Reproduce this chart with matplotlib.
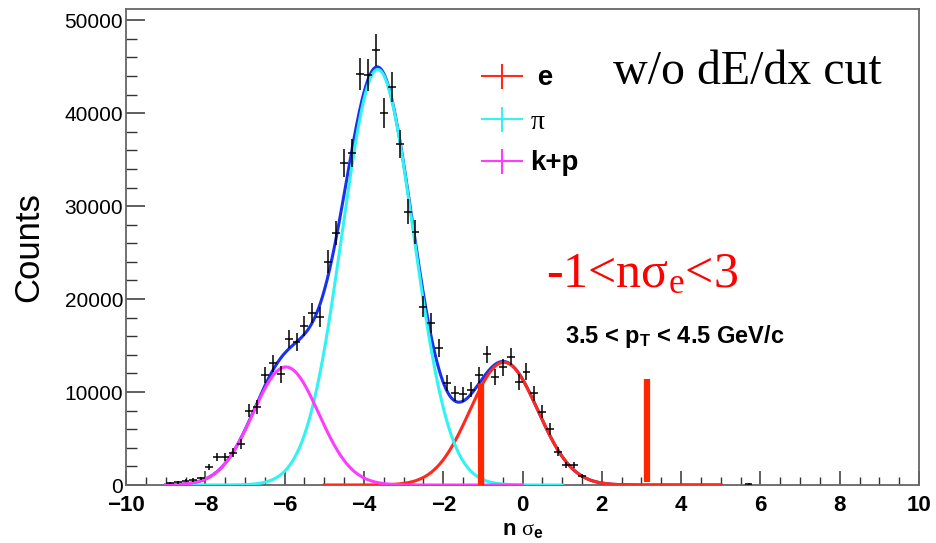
import numpy as np
import matplotlib
matplotlib.use('Agg')
import matplotlib.pyplot as plt
from matplotlib.lines import Line2D
from matplotlib.ticker import MultipleLocator

plt.rcParams['mathtext.fontset'] = 'custom'
plt.rcParams['mathtext.rm'] = 'Liberation Serif'
plt.rcParams['mathtext.it'] = 'Liberation Serif'
plt.rcParams['mathtext.bf'] = 'Liberation Sans:bold'

# histogram points (bin centre, counts, error)
bin_x = [-8.9, -8.7, -8.5, -8.3, -8.1, -7.9, -7.7, -7.5, -7.3, -7.1,
         -6.9, -6.7, -6.5, -6.3, -6.1, -5.9, -5.7, -5.5, -5.3, -5.1,
         -4.9, -4.7, -4.5, -4.3, -4.1, -3.9, -3.7, -3.5, -3.3, -3.1,
         -2.9, -2.7, -2.5, -2.3, -2.1, -1.9, -1.7, -1.5, -1.3, -1.1,
         -0.9, -0.7, -0.5, -0.3, -0.1, 0.1, 0.3, 0.5, 0.7, 0.9,
         1.1, 1.3, 1.5, 5.7]
counts = [200, 300, 450, 550, 700, 1950, 2980, 2980, 3470, 4370,
          7990, 8420, 11850, 13100, 11900, 15700, 15400, 17100, 18500, 18100,
          24000, 27100, 34600, 35700, 44200, 44100, 46800, 40000, 42800, 36700,
          29400, 27200, 19200, 17450, 14700, 11000, 9850, 9750, 10250, 11800,
          14050, 11650, 12650, 13800, 11100, 12200, 9850, 7900, 6000, 3580,
          2150, 2150, 970, 150]
count_err = [110, 140, 170, 190, 210, 350, 440, 440, 470, 530,
             715, 735, 870, 915, 875, 1000, 995, 1045, 1090, 1075,
             1240, 1315, 1490, 1510, 1680, 1680, 1730, 1600, 1655, 1530,
             1370, 1320, 1110, 1055, 970, 840, 795, 790, 810, 870,
             950, 865, 900, 940, 845, 885, 795, 710, 620, 480,
             370, 370, 250, 100]
bin_halfwidth = 0.1

# gaussian fits: amplitude, mean, sigma ; and the range each one is drawn on
kp_fit = [12700, -5.97, 0.83]
pi_fit = [44700, -3.65, 0.90]
e_fit = [13200, -0.47, 0.86]
kp_range = [-9, 0]
pi_range = [-9, 1]
e_range = [-5, 5]
tot_range = [-9, 5]

# hand drawn cut markers
cut_x = [-1.05, 3.15]
cut_lo = [0, 300]
cut_hi = [10900, 11400]

col_e = '#ff2a1a'
col_pi = '#33f2f2'
col_kp = '#ff3bff'
col_tot = '#1a30f0'
col_cut = '#ff2600'


def gaus(x, p):
    return p[0] * np.exp(-0.5 * ((x - p[1]) / p[2]) ** 2)


fig = plt.figure(figsize=(9.37, 5.43), dpi=100)
ax = fig.add_axes([0.1345, 0.1068, 0.8463, 0.8766])

xt = np.linspace(tot_range[0], tot_range[1], 600)
ax.plot(xt, gaus(xt, kp_fit) + gaus(xt, pi_fit) + gaus(xt, e_fit), color=col_tot, lw=2.2, zorder=3)
xe = np.linspace(e_range[0], e_range[1], 400)
ax.plot(xe, gaus(xe, e_fit), color=col_e, lw=2.2, zorder=4)
xp = np.linspace(pi_range[0], pi_range[1], 400)
ax.plot(xp, gaus(xp, pi_fit), color=col_pi, lw=2.2, zorder=4)
xk = np.linspace(kp_range[0], kp_range[1], 400)
ax.plot(xk, gaus(xk, kp_fit), color=col_kp, lw=2.2, zorder=5)

ax.errorbar(bin_x, counts, xerr=bin_halfwidth, yerr=count_err, fmt='none',
            ecolor='black', elinewidth=1.1, capsize=0, zorder=6)

for cx, lo, hi in zip(cut_x, cut_lo, cut_hi):
    ax.plot([cx, cx], [lo, hi], color=col_cut, lw=4.5, solid_capstyle='butt', zorder=7)

ax.set_xlim(-10, 10)
ax.set_ylim(0, 51200)
ax.xaxis.set_major_locator(MultipleLocator(2))
ax.xaxis.set_minor_locator(MultipleLocator(0.5))
ax.yaxis.set_major_locator(MultipleLocator(10000))
ax.yaxis.set_minor_locator(MultipleLocator(2000))
ax.tick_params(axis='x', which='major', direction='in', length=10, width=1.1, pad=7, color='#333333')
ax.tick_params(axis='x', which='minor', direction='in', length=5.5, width=1.0, color='#333333')
ax.tick_params(axis='y', which='major', direction='in', length=14, width=1.1, pad=2, color='#333333')
ax.tick_params(axis='y', which='minor', direction='in', length=8, width=1.0, color='#333333')
for lab in ax.get_xticklabels():
    lab.set_fontfamily('Liberation Sans')
    lab.set_fontweight('bold')
    lab.set_fontsize(16)
for lab in ax.get_yticklabels():
    lab.set_fontfamily('Liberation Sans')
    lab.set_fontsize(15)
for sp in ax.spines.values():
    sp.set_color('#666666')
    sp.set_linewidth(1.3)

ax.set_ylabel('Counts', fontfamily='Liberation Sans', fontsize=25, labelpad=14)
ax.set_xlabel(r'$\mathbf{n}\ \sigma_{\mathbf{e}}$', fontsize=16, labelpad=3)

handles = [Line2D([], [], color=c, lw=1.5, marker='|', markersize=18, markeredgewidth=1.5)
           for c in (col_e, col_pi, col_kp)]
leg = ax.legend(handles, [' e', r'$\pi$', 'k+p'], loc='upper left',
                bbox_to_anchor=(0.431, 0.911), frameon=False, fontsize=20,
                handlelength=1.45, handletextpad=0.3, labelspacing=0.56, borderpad=0)
tx = leg.get_texts()
tx[0].set_fontfamily('Liberation Sans')
tx[0].set_fontweight('bold')
tx[2].set_fontfamily('Liberation Sans')
tx[2].set_fontweight('bold')

ax.text(0.614, 0.842, 'w/o dE/dx cut', transform=ax.transAxes,
        fontfamily='Liberation Serif', fontsize=34.5, ha='left', va='baseline')
ax.text(0.53, 0.415, '-1<nσ$_{e}$<3', transform=ax.transAxes, color='red',
        fontfamily='Liberation Serif', fontsize=36, ha='left', va='baseline')
ax.text(0.553, 0.298, r'3.5 < p$_{\mathbf{T}}$ < 4.5 GeV/c', transform=ax.transAxes,
        fontfamily='Liberation Sans', fontweight='bold', fontsize=17, ha='left', va='baseline')

fig.savefig('out.png', dpi=100)
